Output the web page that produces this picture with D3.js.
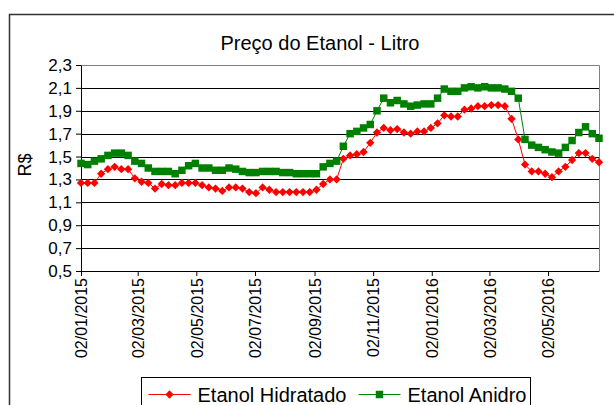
<!DOCTYPE html>
<html>
<head>
<meta charset="utf-8">
<script src="https://cdn.jsdelivr.net/npm/d3@7"></script>
<style>
    body { margin: 0; background: #fff; }
    text { font-family: 'Liberation Sans', Arial, sans-serif; }
</style>
</head>
<body>
<div id="vis"></div>
<script>
var dates = [
    '2015-01-02','2015-01-09','2015-01-16','2015-01-23','2015-01-30',
    '2015-02-06','2015-02-13','2015-02-20','2015-02-27',
    '2015-03-06','2015-03-13','2015-03-20','2015-03-27',
    '2015-04-03','2015-04-10','2015-04-17','2015-04-24',
    '2015-05-01','2015-05-08','2015-05-15','2015-05-22','2015-05-29',
    '2015-06-05','2015-06-12','2015-06-19','2015-06-26',
    '2015-07-03','2015-07-10','2015-07-17','2015-07-24','2015-07-31',
    '2015-08-07','2015-08-14','2015-08-21','2015-08-28',
    '2015-09-04','2015-09-11','2015-09-18','2015-09-25',
    '2015-10-02','2015-10-09','2015-10-16','2015-10-23','2015-10-30',
    '2015-11-06','2015-11-13','2015-11-20','2015-11-27',
    '2015-12-04','2015-12-11','2015-12-18','2015-12-25',
    '2016-01-01','2016-01-08','2016-01-15','2016-01-22','2016-01-29',
    '2016-02-05','2016-02-12','2016-02-19','2016-02-26',
    '2016-03-04','2016-03-11','2016-03-18','2016-03-25',
    '2016-04-01','2016-04-08','2016-04-15','2016-04-22','2016-04-29',
    '2016-05-06','2016-05-13','2016-05-20','2016-05-27',
    '2016-06-03','2016-06-10','2016-06-17','2016-06-24'
];

var hidratado = [
    1.27, 1.27, 1.27, 1.35, 1.39, 1.41, 1.39, 1.39, 1.31,
    1.28, 1.27, 1.22, 1.26, 1.25, 1.25, 1.27, 1.27,
    1.27, 1.25, 1.23, 1.22, 1.20, 1.23, 1.23, 1.22, 1.19,
    1.18, 1.23, 1.21, 1.19, 1.19, 1.19, 1.19, 1.19, 1.19,
    1.21, 1.26, 1.30, 1.30, 1.48, 1.51, 1.52, 1.54, 1.62,
    1.71, 1.75, 1.73, 1.74, 1.71, 1.70, 1.72, 1.72,
    1.75, 1.79, 1.86, 1.85, 1.85, 1.91, 1.92, 1.94, 1.94,
    1.95, 1.95, 1.94, 1.83, 1.65, 1.43, 1.37, 1.37, 1.35,
    1.32, 1.37, 1.41, 1.47, 1.53, 1.53, 1.48, 1.45
];

var anidro = [
    1.44, 1.43, 1.46, 1.48, 1.51, 1.53, 1.53, 1.51, 1.46,
    1.44, 1.40, 1.37, 1.37, 1.37, 1.35, 1.38, 1.42,
    1.44, 1.40, 1.40, 1.38, 1.38, 1.40, 1.39, 1.37, 1.36,
    1.36, 1.37, 1.37, 1.37, 1.36, 1.36, 1.35, 1.35, 1.35,
    1.35, 1.41, 1.44, 1.46, 1.59, 1.70, 1.72, 1.75, 1.78,
    1.90, 2.01, 1.97, 1.99, 1.96, 1.94, 1.95, 1.96,
    1.96, 2.01, 2.09, 2.07, 2.07, 2.10, 2.11, 2.10, 2.11,
    2.10, 2.10, 2.09, 2.07, 2.01, 1.65, 1.60, 1.58, 1.56,
    1.54, 1.53, 1.58, 1.64, 1.71, 1.76, 1.70, 1.66
];

var xTicks = ['2015-01-02','2015-03-02','2015-05-02','2015-07-02','2015-09-02',
    '2015-11-02','2016-01-02','2016-03-02','2016-05-02'];
var yTicks = [0.5, 0.7, 0.9, 1.1, 1.3, 1.5, 1.7, 1.9, 2.1, 2.3];

var seriesNames = ['Etanol Hidratado', 'Etanol Anidro'];
var seriesColors = ['#ff0000', '#008000'];

var parse = d3.timeParse('%Y-%m-%d');
var br = d3.formatLocale({decimal: ',', thousands: '.', grouping: [3], currency: ['R$', '']});

var svg = d3.select('#vis')
    .append('svg')
    .attr('width', 614)
    .attr('height', 405);

var margin = {left: 81, top: 65};
var width = 518;
var height = 206;

// moldura do gráfico
svg.append('rect')
    .attr('x', 9.5).attr('y', 14.5)
    .attr('width', 640).attr('height', 420)
    .attr('fill', 'none')
    .attr('stroke', '#333')
    .attr('stroke-width', 1.5);

svg.append('text')
    .attr('x', 320).attr('y', 50)
    .style('text-anchor', 'middle')
    .style('font-size', '20px')
    .text('Preço do Etanol - Litro');

var xScale = d3.scaleTime()
    .domain([parse(dates[0]), parse(dates[dates.length - 1])])
    .range([0, width]);
var yScale = d3.scaleLinear()
    .domain([0.5, 2.3])
    .range([height, 0]);

var g = svg.append('g')
    .attr('transform', 'translate(' + margin.left + ',' + margin.top + ')');

// grade
g.selectAll('.grid')
    .data(yTicks.slice(1, yTicks.length - 1))
    .enter().append('line')
    .attr('class', 'grid')
    .attr('x1', 0).attr('x2', width)
    .attr('y1', function(d) { return Math.round(yScale(d)) + 0.5; })
    .attr('y2', function(d) { return Math.round(yScale(d)) + 0.5; })
    .attr('stroke', '#000');

// borda da área de plotagem
g.append('path')
    .attr('d', 'M0,0.5H' + (width + 0.5) + 'V' + height)
    .attr('fill', 'none')
    .attr('stroke', '#808080');

var yAxis = d3.axisLeft(yScale)
    .tickValues(yTicks)
    .tickSize(5)
    .tickSizeOuter(0)
    .tickFormat(br.format('.1f'));

var xAxis = d3.axisBottom(xScale)
    .tickValues(xTicks.map(parse))
    .tickSize(5)
    .tickSizeOuter(0)
    .tickFormat(d3.timeFormat('%d/%m/%Y'));

var gy = g.append('g').call(yAxis);
gy.selectAll('text')
    .attr('x', -9)
    .style('font-size', '17px')
    .attr('fill', '#000');

var gx = g.append('g')
    .attr('transform', 'translate(0,' + height + ')')
    .call(xAxis);
gx.selectAll('text')
    .attr('transform', 'rotate(-90)')
    .attr('x', -7).attr('y', 0).attr('dy', '0.36em')
    .style('text-anchor', 'end')
    .style('font-size', '16px')
    .attr('fill', '#000');

svg.selectAll('.domain, .tick line').attr('stroke', '#000');

svg.append('text')
    .attr('transform', 'translate(31,' + (margin.top + height / 2 - 3) + ')rotate(-90)')
    .style('text-anchor', 'middle')
    .style('font-size', '18px')
    .text('R$');

var line = d3.line()
    .x(function(d, i) { return xScale(parse(dates[i])); })
    .y(function(d) { return yScale(d); });

var diamond = d3.symbol().type(d3.symbolDiamond2).size(44);
var square = d3.symbol().type(d3.symbolSquare).size(56);
var shapes = [diamond, square];

[hidratado, anidro].forEach(function(values, k) {
    g.append('path')
        .datum(values)
        .attr('d', line)
        .attr('fill', 'none')
        .attr('stroke', seriesColors[k])
        .attr('stroke-width', 1);

    g.selectAll('.m' + k)
        .data(values)
        .enter().append('path')
        .attr('class', 'm' + k)
        .attr('d', shapes[k])
        .attr('transform', function(d, i) {
            return 'translate(' + xScale(parse(dates[i])) + ',' + yScale(d) + ')';
        })
        .attr('fill', seriesColors[k]);
});

// legenda
var legend = svg.append('g').attr('transform', 'translate(141.5,377.5)');
legend.append('rect')
    .attr('width', 389).attr('height', 40)
    .attr('fill', '#fff')
    .attr('stroke', '#000');

var legendX = [7, 217];
seriesNames.forEach(function(name, k) {
    var lg = legend.append('g').attr('transform', 'translate(' + legendX[k] + ',17)');
    lg.append('line')
        .attr('x1', 0).attr('x2', 42)
        .attr('stroke', seriesColors[k]);
    lg.append('path')
        .attr('d', shapes[k])
        .attr('transform', 'translate(21,0)')
        .attr('fill', seriesColors[k]);
    lg.append('text')
        .attr('x', 49).attr('dy', '0.36em')
        .style('font-size', '20px')
        .text(name);
});
</script>
</body>
</html>
